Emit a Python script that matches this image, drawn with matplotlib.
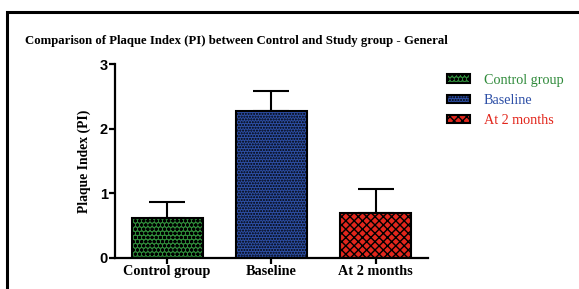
import matplotlib
matplotlib.use("Agg")
import matplotlib.pyplot as plt
from matplotlib.patches import Patch, Rectangle

groups = ["Control group", "Baseline", "At 2 months"]
means = [0.62, 2.27, 0.69]
sds = [0.24, 0.31, 0.37]
colors = ["#2f8a3a", "#2d4fa6", "#e2261c"]
hatches = ["oooo", "......", "xxxx"]
yticks = [0, 1, 2, 3]

plt.rcParams["hatch.linewidth"] = 1.0

fig = plt.figure(figsize=(5.79, 2.89), dpi=100)
ax = fig.add_axes([0.1986, 0.1073, 0.5404, 0.6712])

x = list(range(len(groups)))
for xi, m, c, h in zip(x, means, colors, hatches):
    ax.bar(xi, m, width=0.68, color=c, edgecolor="black", hatch=h, lw=1.5, zorder=2)
ax.errorbar(x, means, yerr=[[0] * len(sds), sds], fmt="none", ecolor="black",
            elinewidth=1.5, capsize=13, capthick=1.5, zorder=1)

ax.set_xlim(-0.5, 2.5)
ax.set_ylim(0, 3)
ax.set_yticks(yticks)
ax.set_yticklabels([str(v) for v in yticks], fontweight="bold", fontsize=10.5,
                   family="Liberation Sans")
ax.set_xticks(x)
ax.set_xticklabels(groups, fontweight="bold", fontsize=10.3, family="Liberation Serif")
ax.set_ylabel("Plaque Index (PI)", fontweight="bold", fontsize=9.8, family="Liberation Serif",
              labelpad=6)
for s in ["top", "right"]:
    ax.spines[s].set_visible(False)
for s in ["left", "bottom"]:
    ax.spines[s].set_linewidth(1.6)
ax.tick_params(width=1.6, length=4, pad=1)

fig.text(25 / 579, 1 - 44 / 289,
         "Comparison of Plaque Index (PI) between Control and Study group - General",
         fontweight="bold", fontsize=9.2, family="Liberation Serif")

handles = [Patch(facecolor=c, edgecolor="black", hatch=h, lw=1.5, label=g)
           for g, c, h in zip(groups, colors, hatches)]
fig.legend(handles=handles, loc="upper left", bbox_to_anchor=(434 / 579, 1 - 61 / 289),
           frameon=False, prop={"family": "Liberation Serif", "size": 10.2},
           labelcolor=colors, handlelength=1.65, handleheight=0.55, labelspacing=0.5,
           handletextpad=0.95)

fig.patches.append(Rectangle((7 / 579, -0.1), 1.2, 1 - 12 / 289 + 0.1, transform=fig.transFigure,
                             fill=False, edgecolor="black", lw=2.2))

fig.savefig("out.png", dpi=100)
